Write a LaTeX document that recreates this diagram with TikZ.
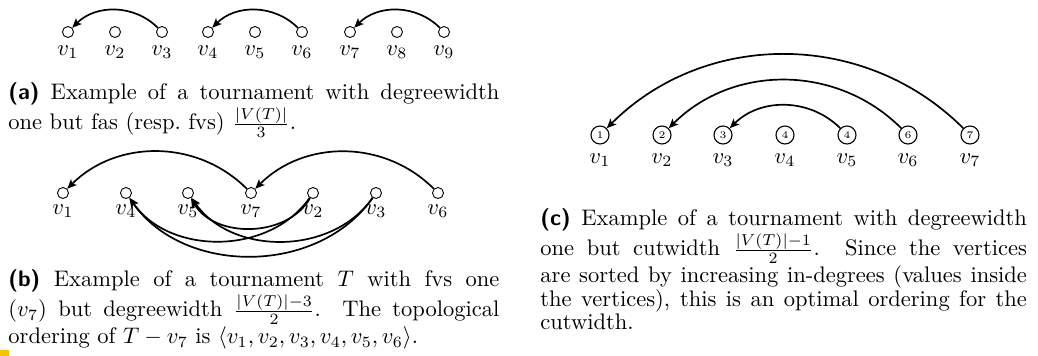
\documentclass[tikz,border=0pt]{standalone}
\usetikzlibrary{arrows.meta}
\newcommand\capfont{\fontsize{10}{10.3}\selectfont\lineskip=1pt\relax}
\begin{document}
\begin{tikzpicture}[x=0.444pt,y=-0.444pt,
  vtx/.style={circle,draw,line width=0.4pt,minimum size=4.9pt,inner sep=0pt},
  nvtx/.style={circle,draw,line width=0.5pt,minimum size=8pt,inner sep=0pt,font=\fontsize{4.5}{5}\selectfont},
  lbl/.style={inner sep=0pt},
  edgearc/.style={line width=0.75pt,-{Stealth[length=4.2pt,width=3.6pt,inset=1pt]}},
  captext/.style={inner sep=0pt,anchor=north west,align=justify,font=\capfont}]
\useasboundingbox (0,0) rectangle (1038,356);
% ---------- (a)
\foreach \i/\x in {1/68,2/115,3/162,4/208,5/255,6/302,7/350,8/397,9/444}{
  \node[vtx] (a\i) at (\x,32) {};
  \node[lbl] (la\i) at (\x,52) {$v_{\i}$};
}
\draw[edgearc] (a3) to[bend right=45] (a1);
\draw[edgearc] (a6) to[bend right=45] (a4);
\draw[edgearc] (a9) to[bend right=45] (a7);
\node[captext,text width=218pt] (capa) at (8,82) {\textsf{\textbf{(a)}} Example of a tournament with degreewidth\linebreak
one but fas (resp.\ fvs) $\frac{|V(T)|}{3}$.};
% ---------- (b)
\foreach \n/\x in {1/63,4/126,5/188,7/251,2/313,3/376,6/438}{
  \node[vtx] (b\n) at (\x,193) {};
  \node[lbl] (lb\n) at (\x,211) {$v_{\n}$};
}
\draw[edgearc] (b7) to[bend right=45] (b1);
\draw[edgearc] (b6) to[bend right=45] (b7);
\draw[edgearc] (b2) to[bend left=60] (b5);
\draw[edgearc] (b2) to[bend left=55] (b4);
\draw[edgearc] (b3) to[bend left=55] (b5);
\draw[edgearc] (b3) to[bend left=55] (b4);
\node[captext,text width=218pt] (capb) at (8,269) {\textsf{\textbf{(b)}} Example of a tournament $T$ with fvs one\linebreak
($v_7$) but degreewidth $\frac{|V(T)|-3}{2}$. The topological\linebreak
ordering of $T-v_7$ is $\langle v_1,v_2,v_3,v_4,v_5,v_6\rangle$.};
% ---------- (c)
\foreach \i/\x/\d in {1/600/1,2/662/2,3/723/3,4/785/4,5/847/4,6/908/6,7/970/7}{
  \node[nvtx] (c\i) at (\x,135) {\d};
  \node[lbl] (lc\i) at (\x,160) {$v_{\i}$};
}
\draw[edgearc] (c7) to[bend right=45] (c1);
\draw[edgearc] (c6) to[bend right=45] (c2);
\draw[edgearc] (c5) to[bend right=45] (c3);
\node[captext,text width=216pt] (capc) at (540,208) {\textsf{\textbf{(c)}} Example of a tournament with degreewidth\linebreak
one but cutwidth $\frac{|V(T)|-1}{2}$. Since the vertices\linebreak
are sorted by increasing in-degrees (values inside\linebreak
the vertices), this is an optimal ordering for the\linebreak
cutwidth.};
% ---------- marker
\fill[fill={rgb,255:red,245;green,196;blue,0}] (0,350) rectangle (9,356);
\end{tikzpicture}
\end{document}
